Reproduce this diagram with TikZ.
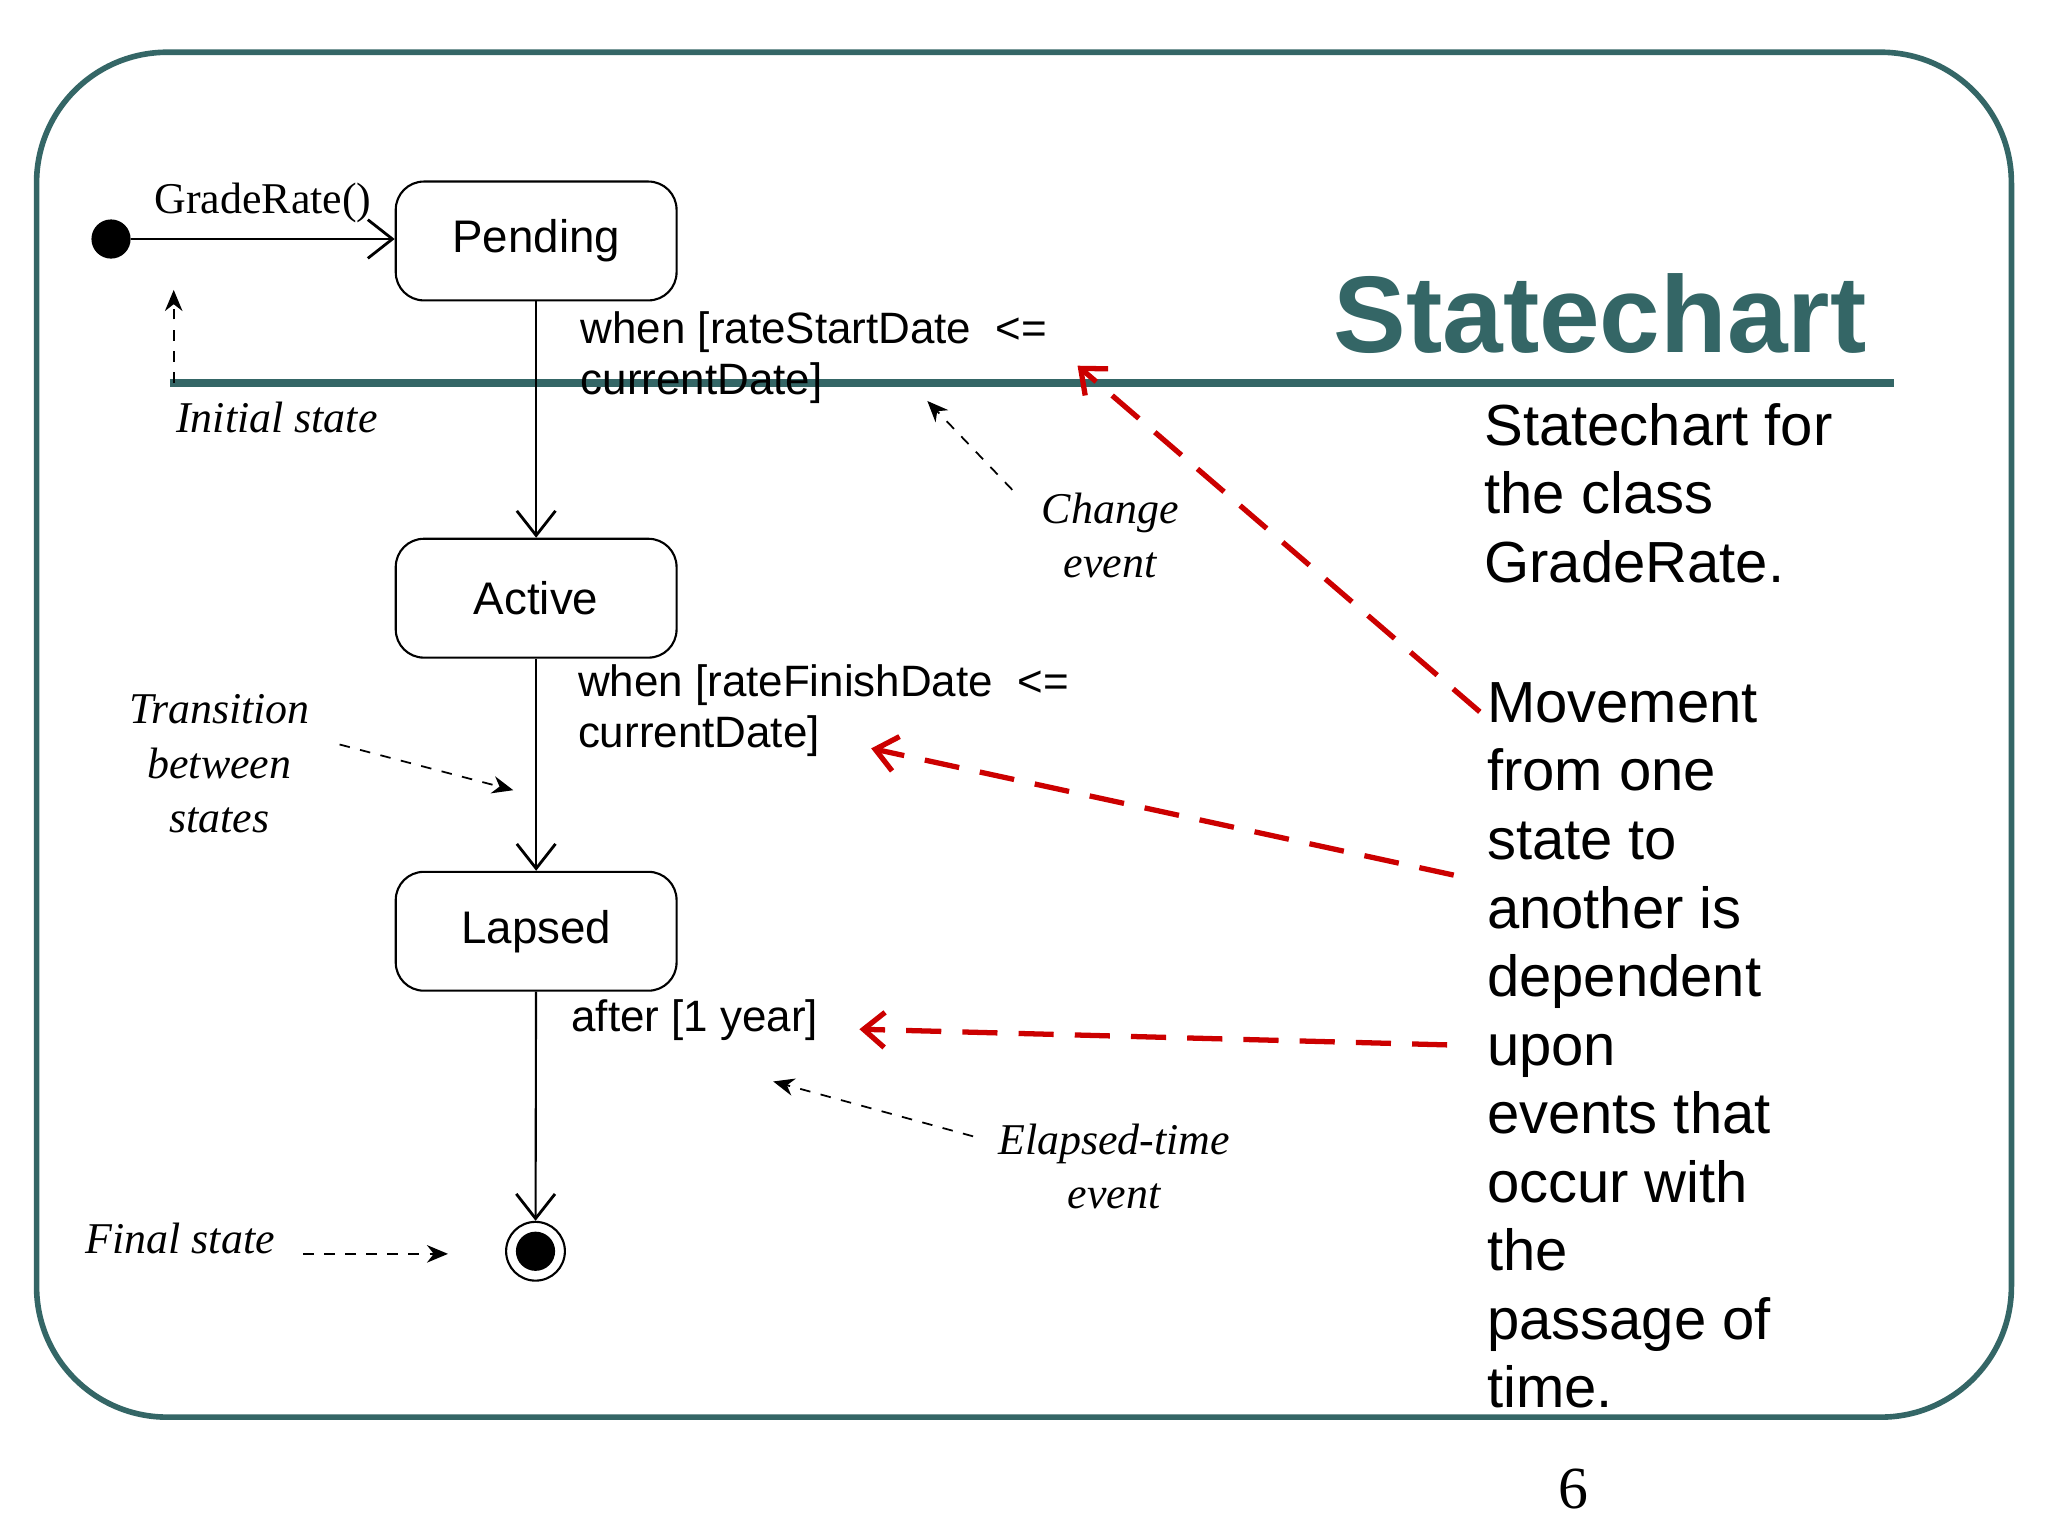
\documentclass[tikz,border=0pt]{standalone}
\usepackage{fontspec}
\setmainfont{Liberation Sans}
\newfontfamily\serifit{Liberation Serif}
\usetikzlibrary{arrows.meta}
\definecolor{teal1}{RGB}{52,102,102}
\definecolor{red1}{RGB}{204,0,0}
\begin{document}
\begin{tikzpicture}[x=0.01306cm,y=-0.01306cm,
  state/.style={draw,rounded corners=8pt,minimum width=215*0.01306cm,minimum height=91*0.01306cm,font=\fontsize{13}{15}\selectfont,line width=0.6pt},
  trans/.style={line width=0.6pt,-{Straight Barb[length=7pt,width=11pt,line width=0.8pt]}},
  note/.style={font=\serifit\itshape\fontsize{12.5}{15.5}\selectfont,align=center},
  notearr/.style={dashed,line width=0.5pt,-{Stealth[length=6pt,width=5pt]}},
  lbl/.style={font=\fontsize{12.5}{15.5}\selectfont,align=left,anchor=north west,inner sep=0pt},
  redarr/.style={red1,line width=1.5pt,dash pattern=on 10pt off 6pt,-{Straight Barb[length=6pt,width=10pt,line width=1.5pt]}},
  big/.style={font=\fontsize{16.5}{19.5}\selectfont,align=left,anchor=north west,inner sep=0pt}]
\useasboundingbox (0,0) rectangle (1568,1176);
\draw[teal1,line width=1.6pt,rounded corners=100*0.01306cm] (28,40) rectangle (1540,1085);
\node[teal1,font=\bfseries\fontsize{31}{36}\selectfont] (title) at (1225,240) {Statechart};
\coordinate (hl) at (130,293); \coordinate (hr) at (1450,293);
\draw[teal1,line width=2.3pt] (hl) -- (hr);
\node[circle,fill,inner sep=0pt,minimum size=30*0.01306cm] (init) at (85,183) {};
\node[state] (pend) at (410.5,184.5) {Pending};
\node[state] (act) at (410.5,458) {Active};
\node[state] (lap) at (410.5,713) {Lapsed};
\node[circle,draw,line width=0.6pt,inner sep=0pt,minimum size=45*0.01306cm] (fin) at (410,958) {};
\node[circle,fill,inner sep=0pt,minimum size=30*0.01306cm] at (fin) {};
\draw[trans] (init) -- (pend.west|-init) node[midway,above=1pt,font=\serifit\fontsize{12.5}{15}\selectfont] (gr) {GradeRate()};
\draw[trans] (pend) -- (act);
\draw[trans] (act) -- (lap);
\draw[trans] (lap) -- (fin);
\node[lbl] (l1) at (444,238) {when [rateStartDate\ \ <=\\[-1pt]currentDate]};
\node[lbl] (l2) at (442,508) {when [rateFinishDate\ \ <=\\[-1pt]currentDate]};
\node[lbl] (l3) at (437,765) {after [1 year]};
\node[note] (n1) at (212,320) {Initial state};
\coordinate (a1s) at (133,293); \coordinate (a1e) at (133,222);
\draw[notearr] (a1s) -- (a1e);
\node[note] (n2) at (850,410) {Change\\event};
\coordinate (a2s) at (775,375); \coordinate (a2e) at (710,307);
\draw[notearr] (a2s) -- (a2e);
\node[note] (n3) at (168,585) {Transition\\between\\states};
\coordinate (a3s) at (260,570); \coordinate (a3e) at (393,605);
\draw[notearr] (a3s) -- (a3e);
\node[note] (n4) at (853,893) {Elapsed-time\\event};
\coordinate (a4s) at (745,870); \coordinate (a4e) at (592,828);
\draw[notearr] (a4s) -- (a4e);
\node[note] (n5) at (138,948) {Final state};
\coordinate (a5s) at (232,960); \coordinate (a5e) at (343,960);
\draw[notearr] (a5s) -- (a5e);
\node[big] (t1) at (1136,308) {Statechart for\\the class\\GradeRate.};
\node[big] (t2) at (1138,522) {Movement\\from one\\state to\\another is\\dependent\\upon\\events that\\occur with\\the\\passage of\\time.};
\coordinate (r1s) at (1133,545); \coordinate (r1e) at (825,280);
\coordinate (r2s) at (1113,670); \coordinate (r2e) at (667,573);
\coordinate (r3s) at (1108,800); \coordinate (r3e) at (658,788);
\draw[redarr] (r1s) -- (r1e);
\draw[redarr] (r2s) -- (r2e);
\draw[redarr] (r3s) -- (r3e);
\node[font=\serifit\fontsize{17}{20}\selectfont] (pg) at (1205,1140) {6};
\end{tikzpicture}
\end{document}
